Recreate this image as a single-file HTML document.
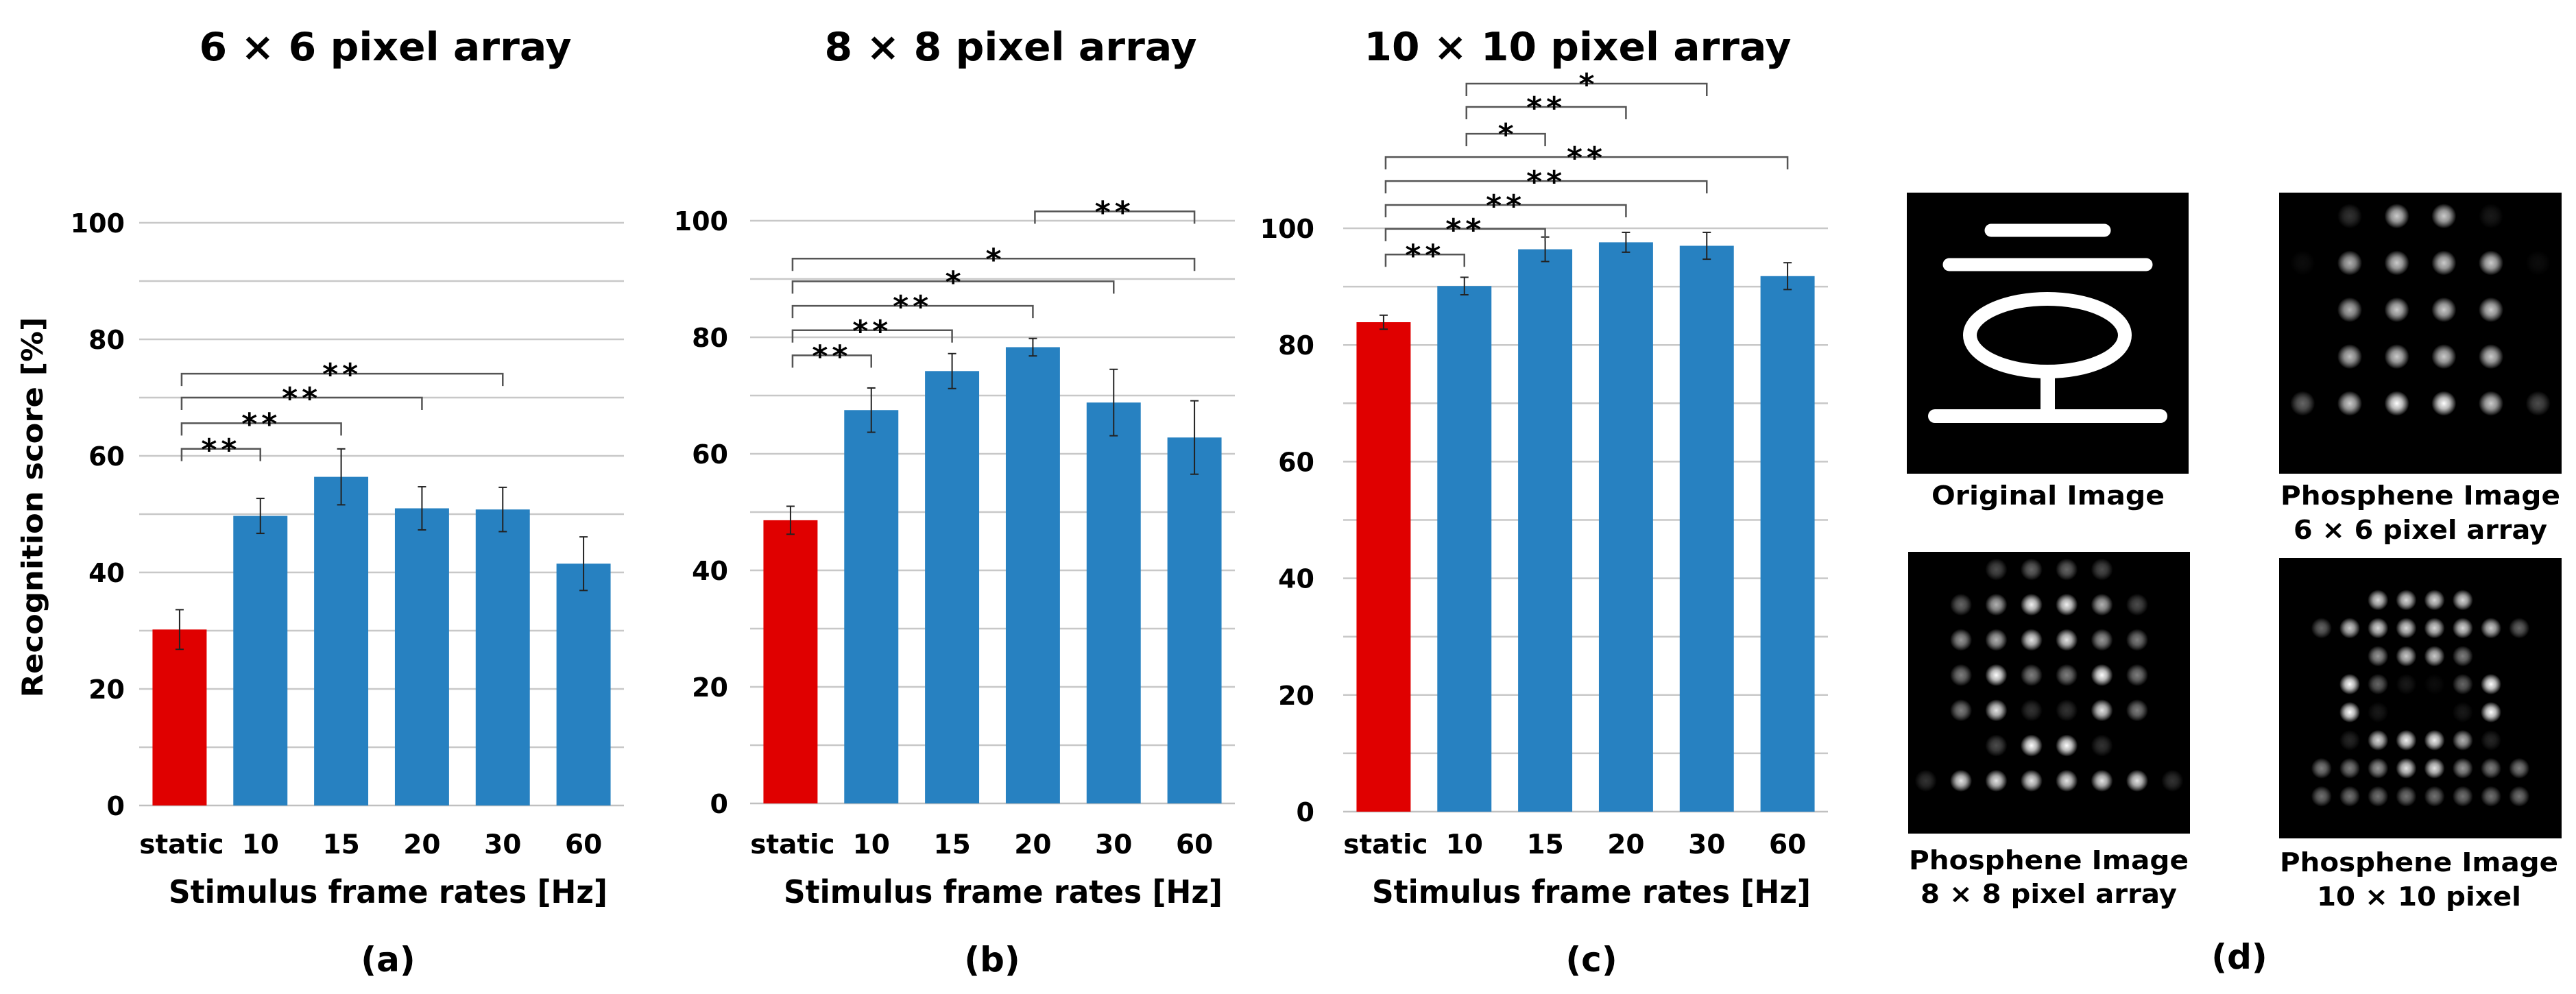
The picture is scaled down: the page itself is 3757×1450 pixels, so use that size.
<!DOCTYPE html>
<html><head><meta charset="utf-8"><style>
html,body{margin:0;padding:0;background:#fff;}
svg{display:block;font-family:"DejaVu Sans","Liberation Sans",sans-serif;font-weight:bold;}
</style></head>
<body>
<svg id="fig" width="3757" height="1450" viewBox="0 0 3757 1450" xmlns="http://www.w3.org/2000/svg">
<defs>
<radialGradient id="dot"><stop offset="0" stop-color="#fff" stop-opacity="1"/><stop offset="0.45" stop-color="#ddd" stop-opacity="0.85"/><stop offset="1" stop-color="#fff" stop-opacity="0"/></radialGradient>
</defs>
<g id="charts"></g>
<g id="panel-d">
  <rect x="2781" y="281" width="411" height="410" fill="#000"/>
  <line x1="2904" y1="336" x2="3069" y2="336" stroke="#fff" stroke-width="19" stroke-linecap="round"/>
  <line x1="2843" y1="386" x2="3130" y2="386" stroke="#fff" stroke-width="19" stroke-linecap="round"/>
  <ellipse cx="2986" cy="489" rx="113" ry="53" fill="none" stroke="#fff" stroke-width="20"/>
  <rect x="2976" y="540" width="21" height="68" fill="#fff"/>
  <line x1="2822" y1="607" x2="3151" y2="607" stroke="#fff" stroke-width="20" stroke-linecap="round"/>
  <text x="2987" y="736" font-size="38" text-anchor="middle" textLength="340" lengthAdjust="spacingAndGlyphs">Original Image</text>
  <text x="3530" y="736" font-size="38" text-anchor="middle" textLength="408" lengthAdjust="spacingAndGlyphs">Phosphene Image</text>
  <text x="3530" y="786" font-size="38" text-anchor="middle" textLength="370" lengthAdjust="spacingAndGlyphs">6 × 6 pixel array</text>
  <text x="2988" y="1268" font-size="38" text-anchor="middle" textLength="408" lengthAdjust="spacingAndGlyphs">Phosphene Image</text>
  <text x="2988" y="1317" font-size="38" text-anchor="middle" textLength="374" lengthAdjust="spacingAndGlyphs">8 × 8 pixel array</text>
  <text x="3528" y="1271" font-size="38" text-anchor="middle" textLength="406" lengthAdjust="spacingAndGlyphs">Phosphene Image</text>
  <text x="3528" y="1321" font-size="38" text-anchor="middle" textLength="298" lengthAdjust="spacingAndGlyphs">10 × 10 pixel</text>
  <text x="3266" y="1413" font-size="50" text-anchor="middle">(d)</text>
</g>
</svg>
<script>
const categories = ["static","10","15","20","30","60"];
const valuesA = [30.2, 49.7, 56.4, 51.0, 50.8, 41.5];
const errorsA = [3.4, 3.0, 4.8, 3.7, 3.8, 4.6];
const valuesB = [48.6, 67.5, 74.2, 78.3, 68.8, 62.8];
const errorsB = [2.4, 3.8, 3.0, 1.5, 5.7, 6.3];
const valuesC = [83.9, 90.1, 96.4, 97.6, 97.0, 91.8];
const errorsC = [1.2, 1.5, 2.1, 1.7, 2.3, 2.3];
const yTicks = [0, 20, 40, 60, 80, 100];
const gridValues = [10, 20, 30, 40, 50, 60, 70, 80, 90, 100];
// significance brackets: [fromIndex, toIndex, level, label]
const bracketsA = [[0,1,61.2,"**"],[0,2,65.6,"**"],[0,3,70.0,"**"],[0,4,74.1,"**"]];
const bracketsB = [[0,1,76.9,"**"],[0,2,81.2,"**"],[0,3,85.4,"**"],[0,4,89.6,"*"],[0,5,93.5,"*"],[3,5,101.6,"**"]];
const bracketsC = [[0,1,95.5,"**"],[0,2,99.9,"**"],[0,3,104.0,"**"],[0,4,108.1,"**"],[0,5,112.2,"**"],[1,2,116.2,"*"],[1,3,120.8,"**"],[1,4,124.8,"*"]];
const grid6 = [[0,.2,.8,.8,.1,0],[.05,.7,.8,.8,.8,.05],[0,.7,.8,.8,.8,0],[0,.75,.8,.8,.8,0],[.4,.8,1,1,.8,.3],[0,0,0,0,0,0]];
const grid8 = [[0,0,.3,.4,.4,.3,0,0],[0,.4,.7,.95,.95,.7,.3,0],[0,.6,.7,.9,.9,.6,.5,0],[0,.5,1,.5,.5,1,.5,0],[0,.5,.9,.2,.2,.9,.5,0],[0,0,.3,1,1,.2,0,0],[.2,.9,.9,.9,.9,.9,.9,.2],[0,0,0,0,0,0,0,0]];
const grid10 = [[0,0,0,0,0,0,0,0,0,0],[0,0,0,.85,.85,.85,.85,0,0,0],[0,.4,.8,.85,.85,.85,.85,.8,.4,0],[0,0,0,.6,.8,.8,.5,0,0,0],[0,0,1,.4,.1,.05,.4,1,0,0],[0,0,1,.1,0,0,.1,1,0,0],[0,0,.15,.85,.95,.95,.7,.15,0,0],[0,.5,.5,.6,.9,.9,.6,.5,.5,0],[0,.45,.45,.45,.45,.45,.45,.45,.45,0],[0,0,0,0,0,0,0,0,0,0]];

const NS = "http://www.w3.org/2000/svg";
function mk(tag, attrs, parent){const e=document.createElementNS(NS,tag);for(const k in attrs)e.setAttribute(k,attrs[k]);parent.appendChild(e);return e;}

const chartsG = document.getElementById("charts");
const cfgs = [
 {id:"a",vals:valuesA,errs:errorsA,br:bracketsA,x0:203,x1:910,y0:1175,y100:325,tickR:182,title:"6 × 6 pixel array",titleX:562,titleW:543,xtX:566,labX:566,ytitle:true},
 {id:"b",vals:valuesB,errs:errorsB,br:bracketsB,x0:1094,x1:1801,y0:1172,y100:322,tickR:1062,title:"8 × 8 pixel array",titleX:1474,titleW:543,xtX:1463,labX:1447},
 {id:"c",vals:valuesC,errs:errorsC,br:bracketsC,x0:1959,x1:2666,y0:1184,y100:333,tickR:1917,title:"10 × 10 pixel array",titleX:2301,titleW:623,xtX:2321,labX:2321}
];
cfgs.forEach(c=>{
  const g = mk("g",{},chartsG);
  
  
  const yS = v => c.y0 - (c.y0-c.y100)*v/100;
  const band = (c.x1-c.x0)/categories.length;
  const xC = i => c.x0 + band*(i+0.5);
  const bw = band*0.67;
  gridValues.forEach(v=>{
    const l = mk("line",{x1:c.x0,x2:c.x1,y1:yS(v),y2:yS(v),stroke:"#c8c8c8","stroke-width":2.5},g);
    
    
  });
  const base = mk("line",{x1:c.x0,x2:c.x1,y1:yS(0),y2:yS(0),stroke:"#c0c0c0","stroke-width":2.5},g);
  
  
  yTicks.forEach(v=>{
    const t = mk("text",{x:c.tickR,y:yS(v)+14,"font-size":38,"text-anchor":"end"},g);
    t.textContent = v;
    
    
  });
  c.vals.forEach((v,i)=>{
    const r = mk("rect",{x:xC(i)-bw/2,y:yS(v),width:bw,height:yS(0)-yS(v),fill:i===0?"#e00000":"#2781c1"},g);
    
    
    const e = c.errs[i];
    const eg = mk("g",{stroke:"#222","stroke-width":2},g);
    
    
    mk("line",{x1:xC(i),x2:xC(i),y1:yS(v+e),y2:yS(v-e)},eg);
    mk("line",{x1:xC(i)-6,x2:xC(i)+6,y1:yS(v+e),y2:yS(v+e)},eg);
    mk("line",{x1:xC(i)-6,x2:xC(i)+6,y1:yS(v-e),y2:yS(v-e)},eg);
    const t = mk("text",{x:xC(i)+(i===0?3:0),y:1245,"font-size":39,"text-anchor":"middle"},g);
    t.textContent = categories[i];
    
    
  });
  c.br.forEach(b=>{
    const xa = xC(b[0])+3, xb = xC(b[1]), y = yS(b[2]);
    const bg = mk("g",{},g);
    
    
    mk("path",{d:`M${xa},${y+18} V${y} H${xb} V${y+18}`,fill:"none",stroke:"#555","stroke-width":2.5},bg);
    const t = mk("text",{x:(xa+xb)/2,y:y+16,"font-size":44,"text-anchor":"middle","letter-spacing":b[3].length>1?6:0},bg);
    t.textContent = b[3];
  });
  const ti = mk("text",{x:c.titleX,y:88,"font-size":57,"text-anchor":"middle",textLength:c.titleW,lengthAdjust:"spacingAndGlyphs"},g);
  ti.textContent = c.title;
  
  
  const xt = mk("text",{x:c.xtX,y:1317,"font-size":46,"text-anchor":"middle",textLength:640,lengthAdjust:"spacingAndGlyphs"},g);
  xt.textContent = "Stimulus frame rates [Hz]";
  
  
  const lb = mk("text",{x:c.labX,y:1417,"font-size":50,"text-anchor":"middle"},g);
  lb.textContent = "("+c.id+")";
  
  
  if(c.ytitle){
    const yt = mk("text",{x:0,y:0,"font-size":42,"text-anchor":"middle",textLength:555,lengthAdjust:"spacingAndGlyphs",transform:"translate(62,740) rotate(-90)"},g);
    yt.textContent = "Recognition score [%]";
    
    
  }
});

const pd = document.getElementById("panel-d");
function phos(name, x, y, w, h, grid, r){
  const g = mk("g",{},pd);
  
  
  mk("rect",{x:x,y:y,width:w,height:h,fill:"#000"},g);
  const n = grid.length;
  grid.forEach((row,ri)=>row.forEach((b,ci)=>{
    if(b<=0) return;
    mk("circle",{cx:x+w*(ci+0.5)/n,cy:y+h*(ri+0.5)/n,r:r,fill:"url(#dot)",opacity:b},g);
  }));
}
phos("phosphene-6x6", 3324, 281, 412, 410, grid6, 18);
phos("phosphene-8x8", 2783, 805, 411, 411, grid8, 16);
phos("phosphene-10x10", 3324, 814, 412, 409, grid10, 15);
</script>
</body></html>
